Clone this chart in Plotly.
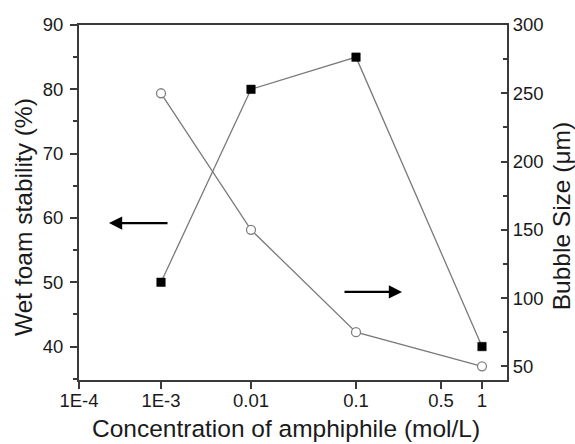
import plotly.graph_objects as go

# Axis calibration (non-uniform concentration axis as in the original)
tick_labels = ["1E-4", "1E-3", "0.01", "0.1", "0.5", "1"]
tick_pos = [0.0, 0.82, 1.72, 2.77, 3.62, 4.03]

concentration = ["1E-3", "0.01", "0.1", "1"]
wet_foam_stability = [50, 80, 85, 40]      # %, left axis
bubble_size = [250, 150, 75, 50]           # µm, right axis

x_title = "Concentration of amphiphile (mol/L)"
y_title = "Wet foam stability (%)"
y2_title = "Bubble Size (\u03bcm)"

x_vals = [tick_pos[tick_labels.index(c)] for c in concentration]

AX = "#3a3a3a"
LINE = "#7a7a7a"
FONT = "Liberation Sans, Arial, sans-serif"
TITLE_SIZE = 24.5

fig = go.Figure()
fig.add_trace(go.Scatter(
    x=x_vals, y=wet_foam_stability, mode="lines+markers",
    line=dict(color=LINE, width=1.3),
    marker=dict(symbol="square", size=8.5, color="black", line=dict(color="black", width=0.5)),
    showlegend=False, yaxis="y", cliponaxis=False))
fig.add_trace(go.Scatter(
    x=x_vals, y=bubble_size, mode="lines+markers",
    line=dict(color=LINE, width=1.3),
    marker=dict(symbol="circle", size=9, color="white", line=dict(color="#808080", width=1.3)),
    showlegend=False, yaxis="y2", cliponaxis=False))

# direction arrows
fig.add_annotation(x=0.30, y=59.2, ax=0.90, ay=59.2, xref="x", yref="y", axref="x", ayref="y",
                   showarrow=True, arrowhead=2, arrowsize=1.2, arrowwidth=2.2, arrowcolor="black", text="")
fig.add_annotation(x=3.23, y=48.5, ax=2.64, ay=48.5, xref="x", yref="y", axref="x", ayref="y",
                   showarrow=True, arrowhead=2, arrowsize=1.2, arrowwidth=2.2, arrowcolor="black", text="")

# axis titles (placed as in the original, slightly off-centre)
fig.add_annotation(text=x_title, xref="paper", yref="paper", x=0.4825, y=-0.138,
                   xanchor="center", yanchor="middle", showarrow=False,
                   font=dict(size=TITLE_SIZE))
fig.add_annotation(text=y_title, xref="paper", yref="paper", x=-0.131, y=0.459, textangle=-90,
                   xanchor="center", yanchor="middle", showarrow=False,
                   font=dict(size=TITLE_SIZE))
fig.add_annotation(text=y2_title, xref="paper", yref="paper", x=1.126, y=0.461, textangle=-90,
                   xanchor="center", yanchor="middle", showarrow=False,
                   font=dict(size=TITLE_SIZE))

fig.update_layout(
    width=575, height=444,
    margin=dict(l=79, r=68, t=25, b=64),
    paper_bgcolor="white", plot_bgcolor="white",
    font=dict(family=FONT, size=18.5, color="#1a1a1a"),
    xaxis=dict(
        range=[0.0, 4.28], tickmode="array", tickvals=tick_pos, ticktext=tick_labels,
        showgrid=False, zeroline=False, showline=True, linecolor=AX, linewidth=2, mirror=True,
        ticks="outside", ticklen=7, tickwidth=2, tickcolor=AX, automargin=False,
        ticklabelstandoff=-4,
    ),
    yaxis=dict(
        range=[34.8, 90], tick0=40, dtick=10, automargin=False,
        showgrid=False, zeroline=False, showline=True, linecolor=AX, linewidth=2,
        ticks="outside", ticklen=7, tickwidth=2, tickcolor=AX, ticklabelstandoff=3,
        minor=dict(dtick=5, tick0=35, ticks="outside", ticklen=4, tickwidth=2, tickcolor=AX),
    ),
    yaxis2=dict(
        range=[40, 300], tick0=50, dtick=50, overlaying="y", side="right", automargin=False,
        showgrid=False, zeroline=False, showline=True, linecolor=AX, linewidth=2,
        ticks="inside", ticklen=6, tickwidth=2, tickcolor=AX,
        minor=dict(dtick=25, tick0=25, ticks="inside", ticklen=4, tickwidth=2, tickcolor=AX),
    ),
)

fig.write_html("out.html")
